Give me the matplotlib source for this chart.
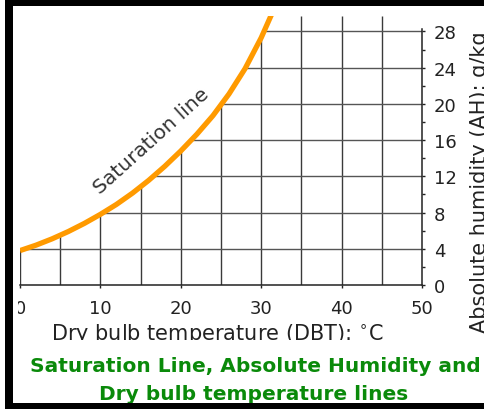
import numpy as np
import matplotlib
matplotlib.use('Agg')
import matplotlib.pyplot as plt
from matplotlib.patches import Polygon, Rectangle
from matplotlib.collections import LineCollection
from matplotlib.ticker import FixedLocator
from matplotlib.transforms import Bbox, TransformedBbox

# ---- data ----
dbt = [0, 2, 4, 6, 8, 10, 12, 14, 16, 18, 20, 22, 24, 26, 28, 30, 32]
sat_ah = [3.8, 4.4, 5.1, 5.9, 6.8, 7.8, 8.9, 10.15, 11.55, 13.1, 14.8, 16.65,
          18.7, 21.1, 23.9, 27.3, 31.3]
x_ticks = [0, 10, 20, 30, 40, 50]
x_grid = [0, 5, 10, 15, 20, 25, 30, 35, 40, 45]
y_ticks = [0, 4, 8, 12, 16, 20, 24, 28]
y_minor = [2, 6, 10, 14, 18, 22, 26]
y_grid = [4, 8, 12, 16, 20, 24, 28]
curve_label = "Saturation line"
xlabel = "Dry bulb temperature (DBT): $^{\\circ}$C"
ylabel = "Absolute humidity (AH): g/kg"
title1 = "Saturation Line, Absolute Humidity and"
title2 = "Dry bulb temperature lines"

W, H = 484, 410
fig = plt.figure(figsize=(W / 100, H / 100), dpi=100)
fig.patch.set_facecolor('white')

def fx(px):
    return px / W

def fy(py):
    return (H - py) / H

ax_l, ax_r, ax_t, ax_b = 20, 422, 17, 286
ax = fig.add_axes([fx(ax_l), fy(ax_b), fx(ax_r - ax_l), (ax_b - ax_t) / H])
ax.set_xlim(0, 50)
ax.set_ylim(0, 29.7)
ax.set_facecolor('white')

for s in ['left', 'top']:
    ax.spines[s].set_visible(False)
for s in ['bottom', 'right']:
    ax.spines[s].set_color('#222222')
    ax.spines[s].set_linewidth(1.1)
ax.spines['right'].set_bounds(0, 28.3)

# clip region below / right of the saturation curve
verts = list(zip(dbt, sat_ah)) + [(60, sat_ah[-1]), (60, -5), (-5, -5), (-5, sat_ah[0])]
clip_poly = Polygon(verts, closed=True, transform=ax.transData, facecolor='none', edgecolor='none')

ylo, yhi = ax.get_ylim()
xlo, xhi = ax.get_xlim()
vsegs = [[(x, ylo), (x, yhi)] for x in x_grid]
hsegs = [[(xlo, y), (xhi, y)] for y in y_grid]
vlc = LineCollection(vsegs, colors='#3a3a3a', linewidths=1.0, zorder=1)
hlc = LineCollection(hsegs, colors='#555555', linewidths=1.0, zorder=1)
ax.add_collection(vlc)
ax.add_collection(hlc)
vlc.set_clip_path(clip_poly)
hlc.set_clip_path(clip_poly)

ax.plot(dbt, sat_ah, color='#FF9A00', lw=3.8, solid_capstyle='butt',
        solid_joinstyle='round', zorder=3)

ax.text(16.4, 16.0, curve_label, rotation=42, rotation_mode='anchor',
        ha='center', va='center', fontsize=14.5, color='#333333',
        family='DejaVu Sans')

# axes ticks
ax.xaxis.set_major_locator(FixedLocator(x_ticks))
ax.set_xticklabels([str(v) for v in x_ticks])
ax.yaxis.tick_right()
ax.yaxis.set_label_position('right')
ax.yaxis.set_major_locator(FixedLocator(y_ticks))
ax.yaxis.set_minor_locator(FixedLocator(y_minor))
ax.set_yticklabels([str(v) for v in y_ticks])
ax.tick_params(axis='x', which='major', direction='out', length=2, width=1,
               pad=8, labelsize=13, labelcolor='#222222', color='#222222')
ax.tick_params(axis='y', which='major', direction='out', length=2.5, width=1,
               pad=6, labelsize=13, labelcolor='#222222', color='#222222')
ax.tick_params(axis='y', which='minor', direction='out', length=2.5, width=1,
               color='#222222')

ax.set_xlabel(xlabel, fontsize=15, color='#222222')
ax.xaxis.set_label_coords(0.49, -0.135)
ax.xaxis.label.set_clip_on(True)
ax.xaxis.label.set_clip_box(TransformedBbox(Bbox.from_extents(0, fy(341), 1, 1), fig.transFigure))

ax.set_ylabel(ylabel, fontsize=15, color='#222222')
ax.yaxis.label.set_ha('left')
ax.yaxis.set_label_coords((470 - ax_l) / (ax_r - ax_l), -(333 - ax_b) / (ax_b - ax_t))

# title lines
green = '#0a8a0a'
fig.text(fx(255), fy(372), title1, ha='center', va='baseline', fontsize=14.5,
         fontweight='bold', color=green, family='DejaVu Sans')
fig.text(fx(254), fy(400), title2, ha='center', va='baseline', fontsize=14.5,
         fontweight='bold', color=green, family='DejaVu Sans')

# crop edge over the "0" label and the black frame of the screenshot
fig.patches.append(Rectangle((fx(13), fy(320)), fx(5), 24 / H, transform=fig.transFigure,
                             facecolor='white', edgecolor='none', zorder=5))
for (x0, y0, w, h) in [(5, 1, 8, 409), (5, 1, 479, 6), (5, 404, 479, 6)]:
    fig.patches.append(Rectangle((fx(x0), fy(y0 + h)), fx(w), h / H, transform=fig.transFigure,
                                 facecolor='black', edgecolor='none', zorder=6))

fig.savefig('out.png', dpi=100)
